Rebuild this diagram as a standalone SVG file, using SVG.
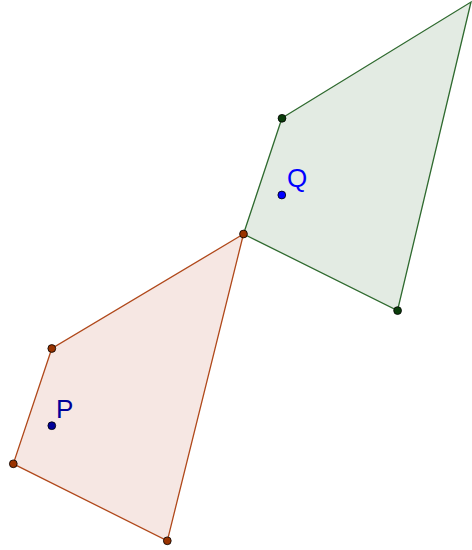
<svg xmlns="http://www.w3.org/2000/svg" width="472" height="550" viewBox="0 0 472 550">
<style>
.green{fill:#e3ebe3;stroke:#2f6a2f;stroke-width:1.3}
.red{fill:#f6e7e3;stroke:#b0481a;stroke-width:1.3}
.gv{fill:#0b3d0b;stroke:#000;stroke-width:0.8}
.rv{fill:#993300;stroke:#000;stroke-width:0.8}
.lbl{font-family:"Liberation Sans",Arial,sans-serif;font-size:26px}
</style>
<rect width="472" height="550" fill="#ffffff"/>
<g id="connectors">
<polygon class="green" points="282,118 471,2 397.5,310.5 243.5,234"/>
<polygon class="red" points="243.5,234 51.8,348.5 13.3,463.8 167.3,540.8"/>
</g>
<g id="green-vertices">
<circle class="gv" cx="282" cy="118.3" r="3.9"/>
<circle class="gv" cx="397.6" cy="310.6" r="3.9"/>
</g>
<g id="red-vertices">
<circle class="rv" cx="243.5" cy="234" r="3.9"/>
<circle class="rv" cx="51.8" cy="348.5" r="3.9"/>
<circle class="rv" cx="13.3" cy="463.8" r="3.9"/>
<circle class="rv" cx="167.3" cy="540.8" r="3.9"/>
</g>
<g id="Q">
<circle cx="281.8" cy="195" r="3.9" fill="#0000ff" stroke="#000" stroke-width="0.8"/>
<text class="lbl" x="287" y="187" fill="#0000ff">Q</text>
</g>
<g id="P">
<circle cx="51.8" cy="425.7" r="3.9" fill="#000099" stroke="#000" stroke-width="0.8"/>
<text class="lbl" x="56" y="418" fill="#000099">P</text>
</g>
</svg>
